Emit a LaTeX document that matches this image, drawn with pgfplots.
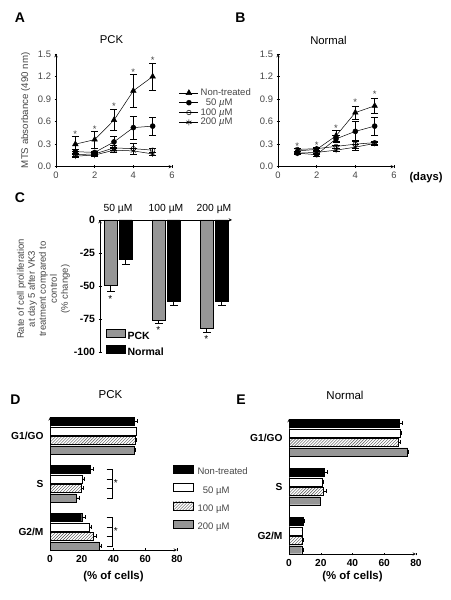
\documentclass[border=0pt]{standalone}
\usepackage{fontspec}
\setmainfont{Liberation Sans}
\usepackage{pgfplots}
\pgfplotsset{compat=1.18}
\usetikzlibrary{patterns}
\newcommand{\fs}[1]{\fontsize{#1bp}{#1bp}\selectfont}
\definecolor{barg}{RGB}{150,150,150}
\definecolor{txtg}{RGB}{70,70,70}
\pgfplotsset{
  base/.style={scale only axis, clip=false, anchor=south west,
    axis line style={-, black, line width=0.5bp},
    tick style={black, line width=0.5bp}, tick align=outside, major tick length=3bp,
    /pgf/number format/assume math mode=true},
  ab/.style={width=116bp, height=112.7bp, xmin=0, xmax=6, ymin=0, ymax=1.5,
    axis lines=left, xtick={0,2,4,6}, ytick={0,0.3,0.6,0.9,1.2,1.5},
    yticklabels={0.0,0.3,0.6,0.9,1.2,1.5},
    tick label style={font=\fs{9.4}, text=txtg},
    title style={font=\fs{11.3}, anchor=center}},
  eb/.style={error bars/y dir=both, error bars/y explicit,
    error bars/error bar style={line width=0.5bp, black},
    error bars/error mark options={rotate=90, mark size=3.5bp, line width=0.5bp, black}},
  nt/.style={black, line width=0.5bp, mark=triangle*, mark size=3.2bp, mark options={solid, fill=black}},
  cA/.style={black, line width=0.5bp, mark=*, mark size=2.5bp, mark options={solid, fill=black}},
  cB/.style={black, line width=0.5bp, mark=o, mark size=2.3bp, mark options={solid, fill=white}},
  cC/.style={black, line width=0.5bp, mark=asterisk, mark size=3bp, mark options={solid}},
  de/.style={xmin=0, xmax=80, axis x line=bottom, axis y line=left,
    xtick={0,20,40,60,80}, ytick={1,2,3}, yticklabels={G2/M,S,G1/GO},
    y tick style={draw=none}, xbar, bar width=8bp,
    tick label style={font=\fs{10.2}\bfseries},
    xlabel={(\% of cells)}, title style={font=\fs{11.5}, anchor=center},
    xlabel style={font=\fs{11.4}\bfseries, anchor=center}},
  ebx/.style={error bars/x dir=plus, error bars/x explicit,
    error bars/error bar style={line width=0.5bp, black},
    error bars/error mark options={rotate=90, mark size=2bp, line width=0.5bp, black}},
  bk/.style={fill=black, draw=black, line width=0.4bp, bar shift=14.25bp},
  wh/.style={fill=white, draw=black, line width=0.4bp, bar shift=4.75bp},
  ha/.style={pattern=north east lines, pattern color=black!70, draw=black, line width=0.4bp, bar shift=-4.75bp},
  gr/.style={fill=barg, draw=black, line width=0.4bp, bar shift=-14.25bp},
}
\begin{document}
\begin{tikzpicture}
\path[use as bounding box] (0,0) rectangle (451bp,600bp);
% panel letters
\node[font=\fs{14}\bfseries] at (20bp,582bp) {A};
\node[font=\fs{14}\bfseries] at (240.5bp,582bp) {B};
\node[font=\fs{14}\bfseries] at (20bp,402bp) {C};
\node[font=\fs{14}\bfseries] at (15.5bp,200bp) {D};
\node[font=\fs{14}\bfseries] at (241bp,200bp) {E};
% ---------- A ----------
\begin{axis}[base, ab, at={(56bp,433.3bp)},
  title={PCK}, title style={at={(axis description cs:0.478,1.071)}},
  ylabel={MTS absorbance (490 nm)},
  ylabel style={at={(axis description cs:-0.263,0.5)}, anchor=center, font=\fs{9.7}, text=txtg},
  legend style={at={(axis description cs:1.06,0.70)}, anchor=north west, draw=none, fill=none,
    font=\fs{9.5}, text=txtg, row sep=0pt, inner sep=0pt,
    nodes={inner sep=0.5bp, text height=7bp, text depth=1.8bp},
    /tikz/every odd column/.style={column sep=1.5bp}},
  legend cell align=left,
  legend image code/.code={\draw[#1, mark repeat=2, mark phase=2] plot coordinates {(0bp,0bp) (9.5bp,0bp) (19bp,0bp)};}]
\addlegendimage{nt}\addlegendentry{Non-treated}
\addlegendimage{cA}\addlegendentry{\phantom{1}50 \textit{µ}M}
\addlegendimage{cB}\addlegendentry{100 \textit{µ}M}
\addlegendimage{cC}\addlegendentry{200 \textit{µ}M}
\addplot[nt, eb, forget plot] coordinates {(1,0.30) +- (0,0.10) (2,0.36) +- (0,0.11) (3,0.62) +- (0,0.14) (4,1.01) +- (0,0.22) (5,1.20) +- (0,0.18)};
\addplot[cA, eb, forget plot] coordinates {(1,0.20) +- (0,0.03) (2,0.19) +- (0,0.02) (3,0.33) +- (0,0.07) (4,0.52) +- (0,0.15) (5,0.54) +- (0,0.12)};
\addplot[cB, eb, forget plot] coordinates {(1,0.16) +- (0,0.02) (2,0.17) +- (0,0.02) (3,0.25) +- (0,0.03) (4,0.24) +- (0,0.07) (5,0.22) +- (0,0.03)};
\addplot[cC, eb, forget plot] coordinates {(1,0.14) +- (0,0.02) (2,0.155) +- (0,0.02) (3,0.22) +- (0,0.03) (4,0.21) +- (0,0.04) (5,0.17) +- (0,0.02)};
\foreach \d/\v in {1/0.39, 2/0.455, 3/0.765, 4/1.215, 5/1.37}
  {\edef\tmp{\noexpand\node[font=\noexpand\fs{9.5}, text=txtg, anchor=base] at (axis cs:\d,\v) {*};}\tmp}
\end{axis}
% ---------- B ----------
\begin{axis}[base, ab, at={(278bp,433.3bp)},
  title={Normal}, title style={at={(axis description cs:0.435,1.071)}}]
\addplot[nt, eb] coordinates {(1,0.21) +- (0,0.03) (2,0.23) +- (0,0.02) (3,0.41) +- (0,0.07) (4,0.72) +- (0,0.09) (5,0.81) +- (0,0.10)};
\addplot[cA, eb] coordinates {(1,0.18) +- (0,0.02) (2,0.16) +- (0,0.02) (3,0.37) +- (0,0.05) (4,0.47) +- (0,0.13) (5,0.54) +- (0,0.12)};
\addplot[cB, eb] coordinates {(1,0.23) +- (0,0.02) (2,0.24) +- (0,0.02) (3,0.27) +- (0,0.02) (4,0.30) +- (0,0.05) (5,0.32) +- (0,0.02)};
\addplot[cC, eb] coordinates {(1,0.18) +- (0,0.02) (2,0.19) +- (0,0.02) (3,0.22) +- (0,0.02) (4,0.26) +- (0,0.04) (5,0.31) +- (0,0.02)};
\foreach \d/\v in {1/0.235, 2/0.245, 3/0.475, 4/0.81, 5/0.925}
  {\edef\tmp{\noexpand\node[font=\noexpand\fs{9.5}, text=txtg, anchor=base] at (axis cs:\d,\v) {*};}\tmp}
\end{axis}
\node[font=\fs{11.2}\bfseries] at (426bp,422bp) {(days)};
% ---------- C ----------
\node[rotate=90, align=center, font={\fontsize{9.5bp}{11bp}\selectfont}, text=txtg] at (43.5bp,311bp)
  {Rate of cell proliferation\\at day 5 after VK3\\treatment compared to\\control\\(\% change)};
\begin{axis}[base, at={(100bp,248bp)}, width=132bp, height=132bp,
  xmin=0.625, xmax=3.375, ymin=-100, ymax=0,
  axis x line=top, axis y line=left,
  xtick={1,2,3}, xticklabels={50 µM,100 µM,200 µM}, x tick style={draw=none},
  ytick={-100,-75,-50,-25,0}, yticklabels={-100,-75,-50,-25,0},
  x tick label style={font=\fs{10.3}},
  y tick label style={font=\fs{10.5}\bfseries},
  ybar, bar width=13bp,
  legend style={at={(axis description cs:0.045,0.178)}, anchor=north west, draw=none, fill=none,
    font=\fs{10.5}\bfseries, row sep=3.5bp, inner sep=0pt,
    nodes={inner sep=0.5bp, text height=7.5bp, text depth=1.5bp},
    /tikz/every odd column/.style={column sep=1.5bp}},
  legend cell align=left,
  legend image code/.code={\draw[#1] (0bp,-0.5bp) rectangle (19bp,7.5bp);}]
\addlegendimage{fill=barg, draw=black, line width=0.4bp}\addlegendentry{PCK}
\addlegendimage{fill=black, draw=black, line width=0.4bp}\addlegendentry{Normal}
\addplot[fill=barg, draw=black, line width=0.4bp, bar shift=-7.5bp, forget plot,
  error bars/y dir=minus, error bars/y explicit,
  error bars/error bar style={line width=0.5bp, black},
  error bars/error mark options={rotate=90, mark size=4bp, line width=0.5bp, black}]
  coordinates {(1,-49.7) +- (0,4.6) (2,-76) +- (0,2.5) (3,-82) +- (0,3)};
\addplot[fill=black, draw=black, line width=0.4bp, bar shift=7.5bp, forget plot,
  error bars/y dir=minus, error bars/y explicit,
  error bars/error bar style={line width=0.5bp, black},
  error bars/error mark options={rotate=90, mark size=4bp, line width=0.5bp, black}]
  coordinates {(1,-29.5) +- (0,3.8) (2,-61.5) +- (0,3) (3,-61.5) +- (0,3)};
\node[font=\fs{10}, anchor=base] at (axis cs:0.84,-62.5) {*};
\node[font=\fs{10}, anchor=base] at (axis cs:1.84,-86) {*};
\node[font=\fs{10}, anchor=base] at (axis cs:2.84,-92.8) {*};
\end{axis}
% ---------- D ----------
\begin{axis}[base, de, at={(50bp,50bp)}, width=127bp, height=132.7bp, ymin=0.615, ymax=3.38,
  title={PCK}, title style={at={(axis description cs:0.476,1.123)}},
  xlabel style={at={(axis description cs:0.5,-0.2035)}},
  legend style={at={(axis description cs:0.9685,0.640)}, anchor=north west, draw=none, fill=none,
    font=\fs{9.5}, text=txtg, row sep=6bp, inner sep=0pt,
    nodes={inner sep=0.5bp, text height=7bp, text depth=2bp},
    /tikz/every odd column/.style={column sep=3.5bp}},
  legend cell align=left,
  legend image code/.code={\draw[#1] (0bp,-1bp) rectangle (20bp,7bp);}]
\addlegendimage{fill=black, draw=black, line width=0.4bp}\addlegendentry{Non-treated}
\addlegendimage{fill=white, draw=black, line width=0.4bp}\addlegendentry{\phantom{1}50 µM}
\addlegendimage{pattern=north east lines, pattern color=black!70, draw=black, line width=0.4bp}\addlegendentry{100 µM}
\addlegendimage{fill=barg, draw=black, line width=0.4bp}\addlegendentry{200 µM}
\addplot[bk, ebx, forget plot] coordinates {(20,1) +- (2,0) (25.5,2) +- (1.8,0) (53,3) +- (2,0)};
\addplot[wh, ebx, forget plot] coordinates {(25,1) +- (1.2,0) (20.5,2) +- (1.2,0) (54,3) +- (0.5,0)};
\addplot[ha, ebx, forget plot] coordinates {(27,1) +- (2,0) (19.5,2) +- (1.5,0) (53.5,3) +- (0.7,0)};
\addplot[gr, ebx, forget plot] coordinates {(31,1) +- (1,0) (16.5,2) +- (2,0) (53,3) +- (0.8,0)};
\draw[line width=0.5bp] (axis cs:35.7,2.297) -- (axis cs:38.9,2.297) -- (axis cs:38.9,1.703) -- (axis cs:35.7,1.703);
\draw[line width=0.5bp] (axis cs:35.7,2.099) -- (axis cs:38.9,2.099) (axis cs:35.7,1.901) -- (axis cs:38.9,1.901);
\draw[line width=0.5bp] (axis cs:35.7,1.297) -- (axis cs:38.9,1.297) -- (axis cs:38.9,0.703) -- (axis cs:35.7,0.703);
\draw[line width=0.5bp] (axis cs:35.7,1.099) -- (axis cs:38.9,1.099) (axis cs:35.7,0.901) -- (axis cs:38.9,0.901);
\node[font=\fs{10}, anchor=base] at (axis cs:41.4,1.94) {*};
\node[font=\fs{10}, anchor=base] at (axis cs:41.4,0.94) {*};
\end{axis}
% ---------- E ----------
\begin{axis}[base, de, at={(289bp,46bp)}, width=127bp, height=135bp, ymin=0.6224, ymax=3.3776,
  title={Normal}, title style={at={(axis description cs:0.441,1.133)}},
  xlabel style={at={(axis description cs:0.5,-0.17)}}]
\addplot[bk, ebx] coordinates {(8.8,1) +- (1,0) (22,2) +- (2,0) (69.3,3) +- (2,0)};
\addplot[wh, ebx] coordinates {(8,1) +- (0.6,0) (21,2) +- (0.7,0) (70,3) +- (0.5,0)};
\addplot[ha, ebx] coordinates {(8.4,1) +- (0.8,0) (21.5,2) +- (2,0) (68.8,3) +- (1,0)};
\addplot[gr, ebx] coordinates {(8,1) +- (1.2,0) (19.4,2) +- (0.5,0) (74.7,3) +- (0.6,0)};
\end{axis}
\end{tikzpicture}
\end{document}
